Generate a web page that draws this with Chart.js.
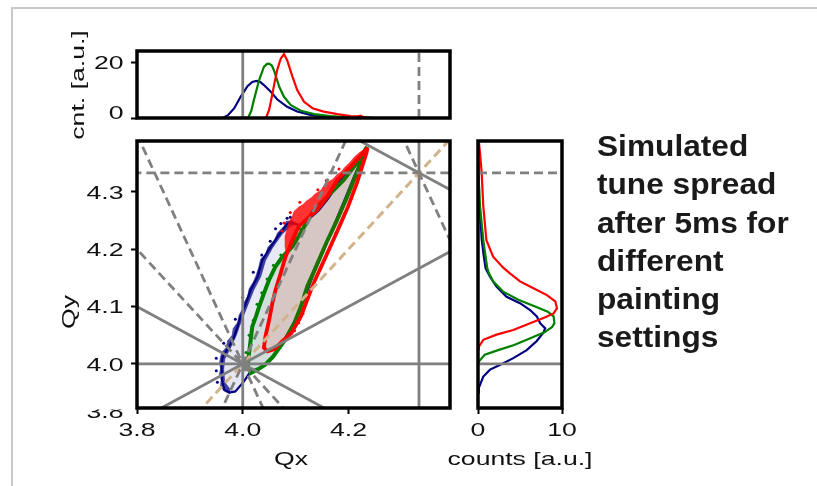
<!DOCTYPE html>
<html>
<head>
<meta charset="utf-8">
<title>Tune spread</title>
<script src="https://cdn.jsdelivr.net/npm/chart.js@4.4.1/dist/chart.umd.min.js"></script>
<style>
  html, body { margin: 0; padding: 0; background: #fff; }
  #page { position: relative; width: 817px; height: 486px; overflow: hidden; background: #fff;
          font-family: "Liberation Sans", Arial, sans-serif; color: #111; }
  #page canvas { position: absolute; left: 0; top: 0; }
  .rule { position: absolute; background: #c8c8c8; }
  .ttl { position: absolute; white-space: nowrap; font-size: 19px; line-height: 22px; transform-origin: 50% 50%; }
  .ttl span { display: inline-block; transform: scaleX(1.4); }
  #note { position: absolute; left: 597px; top: 127px; font-size: 30px; font-weight: bold;
          line-height: 38.3px; color: #1a1a1a; transform: scaleX(1.055); transform-origin: 0 0; white-space: nowrap; }
</style>
</head>
<body>
<div id="page">
  <div class="rule" style="left:11px;top:7px;width:806px;height:2px"></div>
  <div class="rule" style="left:11px;top:7px;width:2px;height:479px"></div>
  <canvas id="topHist" width="817" height="486"></canvas>
  <canvas id="main" width="817" height="486"></canvas>
  <canvas id="sideHist" width="817" height="486"></canvas>
  <div class="ttl" style="left:78px;top:85px;transform:translate(-50%,-50%) rotate(-90deg)"><span>cnt. [a.u.]</span></div>
  <div class="ttl" style="left:69px;top:312px;transform:translate(-50%,-50%) rotate(-90deg)"><span>Qy</span></div>
  <div class="ttl" style="left:291px;top:459px;transform:translate(-50%,-50%)"><span>Qx</span></div>
  <div class="ttl" style="left:520px;top:459px;transform:translate(-50%,-50%)"><span>counts [a.u.]</span></div>
  <div id="note">Simulated<br>tune spread<br>after 5ms for<br>different<br>painting<br>settings</div>
</div>
<script>
// ---- axis ranges and ticks ----
const qxMin = 3.8, qxMax = 4.392;
const qyMin = 3.923, qyMax = 4.389;
const qxTicks = [3.8, 4.0, 4.2];
const qyTicks = [4.0, 4.1, 4.2, 4.3];
const qyCutTick = 3.8;            // half hidden label under the main panel
const topCntMax = 24;
const topCntTicks = [20];
const topZeroTick = [0];          // drawn a bit higher than its tick, as in the original
const sideCntMax = 10;
const sideCntTicks = [0, 10];

// resonance lines, a*Qx + b*Qy = c
const solidRes = [[1, 0, 4], [0, 1, 4], [3, 0, 13], [1, -2, -4], [1, 2, 12], [1, 2, 13]];
const dashedRes = [[0, 3, 13], [2, 1, 12], [1, 1, 8], [2, -1, 4], [2, 1, 13]];
const diagRes = [[1, -1, 0]];

// ---- footprint outlines (Qx, Qy) ----
const navyQx = [4.236, 4.206, 4.182, 4.163, 4.144, 4.122, 4.108, 4.092, 4.084, 4.068, 4.049, 4.037, 4.028, 4.015, 4.006,
                3.996, 3.990, 3.984, 3.974, 3.962, 3.960, 3.961, 3.965, 3.975, 3.986, 4.002, 4.015, 4.037, 4.058,
                4.080, 4.098, 4.116, 4.134, 4.154, 4.173, 4.192, 4.210, 4.228];
const navyQy = [4.377, 4.342, 4.318, 4.290, 4.268, 4.250, 4.242, 4.247, 4.244, 4.225, 4.199, 4.181, 4.152, 4.129, 4.106,
                4.083, 4.065, 4.048, 4.030, 4.013, 3.995, 3.972, 3.955, 3.950, 3.952, 3.969, 3.987, 3.995, 4.014,
                4.044, 4.075, 4.112, 4.157, 4.200, 4.243, 4.285, 4.326, 4.364];

const greenQx = [4.235, 4.216, 4.191, 4.160, 4.135, 4.113, 4.094, 4.075, 4.062, 4.050, 4.040, 4.031, 4.025, 4.018,
                 4.015, 4.012, 4.009, 4.015, 4.028, 4.042, 4.057, 4.080, 4.098, 4.110, 4.122, 4.136, 4.158, 4.176,
                 4.195, 4.213, 4.231];
const greenQy = [4.379, 4.351, 4.321, 4.292, 4.269, 4.234, 4.205, 4.187, 4.170, 4.147, 4.123, 4.100, 4.083, 4.065,
                 4.042, 4.019, 3.995, 3.984, 3.990, 3.998, 4.012, 4.042, 4.072, 4.100, 4.135, 4.164, 4.211, 4.246,
                 4.286, 4.327, 4.368];

const redQx = [4.236, 4.204, 4.179, 4.160, 4.141, 4.119, 4.106, 4.094, 4.081, 4.072, 4.062, 4.056, 4.050, 4.043,
               4.040, 4.047, 4.060, 4.072, 4.092, 4.110, 4.127, 4.137, 4.157, 4.180, 4.199, 4.216, 4.234];
const redQy = [4.377, 4.344, 4.321, 4.292, 4.269, 4.251, 4.240, 4.216, 4.187, 4.159, 4.129, 4.106, 4.077, 4.048,
               4.028, 4.022, 4.026, 4.037, 4.054, 4.083, 4.124, 4.147, 4.187, 4.234, 4.274, 4.316, 4.368];

// particle fringes on the upper-left edges
const navyFringeQx = [4.094, 4.082, 4.078, 4.066, 4.060, 4.047, 4.044, 4.034, 4.030, 4.025, 4.020, 4.012, 4.009, 4.003,
                      3.999, 3.993, 3.990, 3.982, 3.980, 3.971, 3.970, 3.960, 3.958, 3.956, 3.958, 3.956, 3.959, 3.958,
                      3.964, 3.975, 3.976, 3.966, 3.964, 3.966, 3.978, 3.988, 3.994, 4.002, 4.011, 4.021, 4.034, 4.043,
                      4.056, 4.074, 4.090, 4.100];
const navyFringeQy = [4.250, 4.249, 4.240, 4.229, 4.216, 4.203, 4.192, 4.183, 4.168, 4.154, 4.143, 4.131, 4.118, 4.108,
                      4.095, 4.085, 4.072, 4.062, 4.050, 4.040, 4.030, 4.020, 4.012, 4.002, 3.992, 3.982, 3.972, 3.962,
                      3.953, 3.948, 3.956, 3.968, 3.990, 4.008, 4.030, 4.050, 4.066, 4.085, 4.106, 4.129, 4.152, 4.180,
                      4.202, 4.226, 4.240, 4.244];
const redFringeQx = [4.083, 4.080, 4.080, 4.084, 4.088, 4.094, 4.097, 4.106, 4.114, 4.120, 4.131, 4.136, 4.148, 4.152,
                     4.162, 4.170, 4.178, 4.187, 4.193, 4.203, 4.211, 4.222, 4.236, 4.204, 4.179, 4.160, 4.141, 4.119,
                     4.106, 4.094, 4.081];
const redFringeQy = [4.190, 4.205, 4.222, 4.236, 4.249, 4.258, 4.266, 4.274, 4.278, 4.284, 4.291, 4.296, 4.303, 4.309,
                     4.318, 4.322, 4.330, 4.336, 4.343, 4.352, 4.361, 4.370, 4.377, 4.344, 4.321, 4.292, 4.269, 4.251,
                     4.240, 4.216, 4.187];

// loose particles outside the outlines
const navyDotQx = [4.084, 4.072, 4.052, 4.036, 4.020, 4.000, 3.986, 3.964, 3.950, 3.950, 3.952, 4.090, 4.062];
const navyDotQy = [4.254, 4.245, 4.214, 4.190, 4.160, 4.116, 4.078, 4.036, 4.010, 3.988, 3.968, 4.256, 4.236];
const greenDotQx = [4.108, 4.090, 4.072, 4.058, 4.046, 4.036, 4.027, 4.020, 4.012, 4.006];
const greenDotQy = [4.236, 4.208, 4.190, 4.172, 4.148, 4.124, 4.104, 4.076, 4.050, 4.020];
const redDotQx = [4.078, 4.090, 4.108, 4.142, 4.158, 4.182, 4.074, 4.098, 4.106, 4.114, 4.134, 4.146, 4.160, 4.176, 4.192];
const redDotQy = [4.246, 4.264, 4.282, 4.304, 4.320, 4.340, 4.232, 4.058, 4.072, 4.088, 4.140, 4.165, 4.195, 4.228, 4.262];

// ---- projections on Qx (top) ----
const navyTopQx = [3.962, 3.972, 3.984, 3.996, 4.009, 4.018, 4.026, 4.033, 4.040, 4.053, 4.065, 4.084, 4.103, 4.128, 4.153, 4.179, 4.217, 4.250];
const navyTopCnt = [0, 1.0, 3.5, 7.6, 11.4, 12.9, 13.3, 12.9, 11.8, 9.4, 6.7, 4.0, 2.3, 1.1, 0.5, 0.2, 0.1, 0];
const greenTopQx = [4.010, 4.016, 4.021, 4.031, 4.040, 4.046, 4.050, 4.055, 4.059, 4.069, 4.078, 4.091, 4.110, 4.135, 4.166, 4.198, 4.229, 4.250];
const greenTopCnt = [0, 2.5, 6.4, 13.6, 18.3, 19.4, 19.5, 18.8, 17.1, 11.2, 7.6, 4.6, 2.6, 1.4, 0.7, 0.2, 0.1, 0];
const redTopQx = [4.044, 4.050, 4.055, 4.060, 4.065, 4.072, 4.078, 4.084, 4.094, 4.103, 4.116, 4.132, 4.153, 4.179, 4.204, 4.218, 4.223, 4.229, 4.240];
const redTopCnt = [0, 3.0, 7.6, 12.5, 17.1, 21.3, 22.9, 20.7, 14.8, 10.0, 5.8, 3.5, 2.3, 1.4, 0.7, 0.6, 0.8, 0.3, 0];

// ---- projections on Qy (side) ----
const navySideQy = [3.950, 3.958, 3.978, 3.990, 3.998, 4.010, 4.024, 4.040, 4.055, 4.062, 4.071, 4.083, 4.094, 4.106, 4.117, 4.135, 4.152, 4.167, 4.187, 4.216, 4.275, 4.304, 4.350, 4.389];
const navySideCnt = [0, 0.1, 0.63, 1.43, 2.6, 4.2, 5.8, 7.0, 7.8, 8.0, 7.4, 7.0, 6.2, 5.0, 3.4, 2.2, 1.43, 0.9, 0.7, 0.45, 0.2, 0.12, 0.04, 0];
const greenSideQy = [4.000, 4.004, 4.016, 4.024, 4.033, 4.045, 4.055, 4.064, 4.071, 4.083, 4.091, 4.100, 4.112, 4.126, 4.144, 4.158, 4.167, 4.216, 4.275, 4.330, 4.389];
const greenSideCnt = [0, 0.1, 0.8, 2.4, 4.3, 6.3, 7.9, 8.8, 9.1, 9.0, 8.3, 6.8, 4.8, 3.0, 1.8, 1.3, 1.1, 0.63, 0.24, 0.06, 0];
const redSideQy = [4.026, 4.030, 4.042, 4.051, 4.059, 4.071, 4.080, 4.088, 4.097, 4.109, 4.120, 4.132, 4.144, 4.158, 4.168, 4.187, 4.216, 4.275, 4.333, 4.368, 4.389];
const redSideCnt = [0, 0.1, 0.63, 2.2, 4.2, 6.2, 7.8, 9.0, 9.4, 9.2, 8.2, 6.6, 5.0, 3.8, 3.0, 1.8, 1.0, 0.63, 0.44, 0.24, 0.1];

// ---- helpers ----
const TXT_STRETCH = 1.4;
const TICK_FONT = '19px "Liberation Sans", Arial, sans-serif';
const GRAY = '#808080', TAN = '#d2b48c';
const NAVY = '#000080', GREEN = '#008000', RED = '#ff0000';

Chart.defaults.animation = false;
Chart.defaults.elements.point.radius = 0;
Chart.defaults.elements.line.tension = 0;
Chart.defaults.plugins.legend.display = false;
Chart.defaults.plugins.tooltip.enabled = false;

const pts = (xs, ys) => xs.map((x, i) => ({x: x, y: ys[i]}));
const loop = (xs, ys) => { const p = pts(xs, ys); p.push(p[0]); return p; };

// two far points of a*x + b*y = c, the chart clips them
function seg(c, xr, yr) {
  const [a, b, k] = c;
  if (b === 0) return [{x: k / a, y: yr[0]}, {x: k / a, y: yr[1]}];
  if (a === 0) return [{x: xr[0], y: k / b}, {x: xr[1], y: k / b}];
  return xr.map(x => ({x: x, y: (k - a * x) / b}));
}

const tickGrid = {display: true, drawOnChartArea: false, drawTicks: true, tickLength: 6, tickWidth: 2, tickColor: '#000', color: '#000'};

function axis(min, max, ticks, dir, size) {
  return {
    type: 'linear', min: min, max: max,
    afterBuildTicks: s => { s.ticks = ticks.map(v => ({value: v})); },
    afterFit: s => { if (dir === 'x') s.height = size; else s.width = size; },
    ticks: {display: false},
    grid: tickGrid,
    border: {display: false}
  };
}

function line(data, color, width, extra) {
  return Object.assign({data: data, borderColor: color, borderWidth: width, fill: false, pointRadius: 0}, extra || {});
}
function blob(xs, ys, color, order) {
  return line(loop(xs, ys), color, 0.6, {fill: 'shape', backgroundColor: color, order: order});
}
function dots(xs, ys, color, order) {
  return {data: pts(xs, ys), showLine: false, pointRadius: 1.5, pointBorderWidth: 0,
          pointBackgroundColor: color, order: order};
}

// frame box + stretched tick labels
const framePlugin = {
  id: 'frame',
  afterDraw(chart, args, opts) {
    const ctx = chart.ctx, a = chart.chartArea;
    ctx.save();
    ctx.font = TICK_FONT;
    ctx.fillStyle = '#111';
    ctx.textBaseline = 'alphabetic';
    (opts.labels || []).forEach(l => {
      const sc = chart.scales[l.axis];
      const dy = l.dy || 0;
      l.values.forEach(v => {
        const p = sc.getPixelForValue(v);
        ctx.save();
        if (sc.isHorizontal()) { ctx.translate(p, a.bottom + 27.6); ctx.textAlign = 'center'; }
        else { ctx.translate(a.left - 13.5, p + 6.8 + dy); ctx.textAlign = 'right'; }
        ctx.scale(TXT_STRETCH, 1);
        ctx.fillText(l.fmt(v), 0, 0);
        ctx.restore();
      });
    });
    if (opts.cut !== undefined) {
      ctx.save();
      ctx.beginPath();
      ctx.rect(0, a.bottom + 1.5, a.left - 4, 20);
      ctx.clip();
      ctx.translate(a.left - 13.5, a.bottom + 9.5);
      ctx.textAlign = 'right';
      ctx.scale(TXT_STRETCH, 1);
      ctx.fillText(opts.cut.toFixed(1), 0, 0);
      ctx.restore();
    }
    ctx.lineWidth = 3.5;
    ctx.strokeStyle = '#000';
    ctx.strokeRect(a.left, a.top, a.right - a.left, a.bottom - a.top);
    ctx.restore();
  }
};

const one = v => v.toFixed(1);
const int = v => String(v);
const XR = [3.5, 4.7], YR = [3.6, 4.7];

// ---- main tune diagram ----
new Chart(document.getElementById('main'), {
  type: 'line',
  data: {
    datasets: [
      ...solidRes.map(c => line(seg(c, XR, YR), GRAY, 2.8, {order: 0})),
      ...dashedRes.map(c => line(seg(c, XR, YR), GRAY, 2.8, {borderDash: [9, 5], order: 0})),
      ...diagRes.map(c => line(seg(c, XR, YR), TAN, 3, {borderDash: [9, 5], order: 0})),
      line(loop(redQx, redQy), RED, 3.8, {fill: 'shape', backgroundColor: 'rgba(255,0,0,0.1)', order: 1}),
      blob(redFringeQx, redFringeQy, 'rgba(255,0,0,0.8)', 1),
      dots(redDotQx, redDotQy, RED, 1),
      line(loop(greenQx, greenQy), GREEN, 4, {fill: 'shape', backgroundColor: 'rgba(0,128,0,0.1)', order: 2}),
      dots(greenDotQx, greenDotQy, GREEN, 2),
      line(loop(navyQx, navyQy), NAVY, 2.2, {fill: 'shape', backgroundColor: 'rgba(0,0,128,0.09)', order: 3}),
      blob(navyFringeQx, navyFringeQy, 'rgba(0,0,128,0.72)', 3),
      dots(navyDotQx, navyDotQy, NAVY, 3)
    ]
  },
  options: {
    responsive: false,
    layout: {padding: {left: 97, top: 141, right: 367, bottom: 38}},
    scales: {x: axis(qxMin, qxMax, qxTicks, 'x', 40), y: axis(qyMin, qyMax, qyTicks, 'y', 40)},
    plugins: {frame: {labels: [{axis: 'x', values: qxTicks, fmt: one}, {axis: 'y', values: qyTicks, fmt: one}], cut: qyCutTick}}
  },
  plugins: [framePlugin]
});

// ---- Qx projection ----
new Chart(document.getElementById('topHist'), {
  type: 'line',
  data: {
    datasets: [
      line(seg([1, 0, 4], XR, [-5, 40]), GRAY, 2.8, {order: 0}),
      line(seg([3, 0, 13], XR, [-5, 40]), GRAY, 2.8, {borderDash: [9, 5], order: 0}),
      line(pts(redTopQx, redTopCnt), RED, 2.2, {order: 1}),
      line(pts(greenTopQx, greenTopCnt), GREEN, 2.2, {order: 2}),
      line(pts(navyTopQx, navyTopCnt), NAVY, 2.2, {order: 3})
    ]
  },
  options: {
    responsive: false,
    layout: {padding: {left: 97, top: 51, right: 367, bottom: 368}},
    scales: {x: {type: 'linear', min: qxMin, max: qxMax, display: false},
             y: axis(0, topCntMax, topCntTicks.concat(topZeroTick), 'y', 40)},
    plugins: {frame: {labels: [{axis: 'y', values: topCntTicks, fmt: int},
                               {axis: 'y', values: topZeroTick, fmt: int, dy: -5.5}]}}
  },
  plugins: [framePlugin]
});

// ---- Qy projection ----
new Chart(document.getElementById('sideHist'), {
  type: 'line',
  data: {
    datasets: [
      line(seg([0, 1, 4], [-5, 20], YR), GRAY, 2.8, {order: 0}),
      line(seg([0, 3, 13], [-5, 20], YR), GRAY, 2.8, {borderDash: [9, 5], order: 0}),
      line(pts(redSideCnt, redSideQy), RED, 2.2, {order: 1}),
      line(pts(greenSideCnt, greenSideQy), GREEN, 2.2, {order: 2}),
      line(pts(navySideCnt, navySideQy), NAVY, 2.2, {order: 3})
    ]
  },
  options: {
    responsive: false,
    layout: {padding: {left: 478, top: 141, right: 255, bottom: 38}},
    scales: {x: axis(0, sideCntMax, sideCntTicks, 'x', 40), y: {type: 'linear', min: qyMin, max: qyMax, display: false}},
    plugins: {frame: {labels: [{axis: 'x', values: sideCntTicks, fmt: int}]}}
  },
  plugins: [framePlugin]
});
</script>
</body>
</html>
